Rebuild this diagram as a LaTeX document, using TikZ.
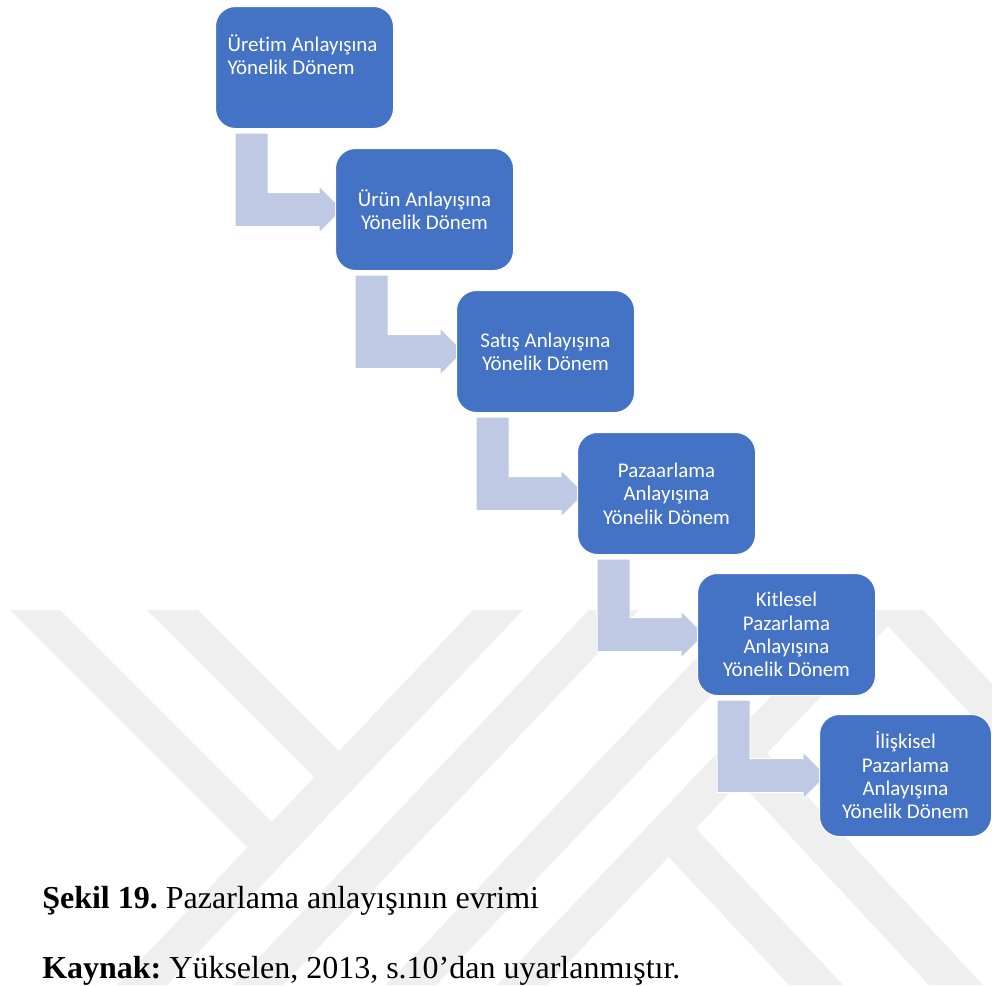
\documentclass[tikz,border=0pt]{standalone}
\usepackage{fontspec}
\setmainfont{Liberation Serif}
\newfontfamily\boxfont{Carlito}[RawFeature={-liga}]
\usetikzlibrary{calc}
\pgfdeclarelayer{wm}
\pgfdeclarelayer{arrowlayer}
\pgfsetlayers{wm,arrowlayer,main}
\definecolor{boxblue}{HTML}{4472C4}
\definecolor{arrowfill}{HTML}{BFC9E4}
\definecolor{wmgray}{HTML}{EFEFEF}
\frenchspacing

% bent step arrow from the lower left of box #1 into the left side of box #2
\newcommand\steparrow[2]{%
  \fill[arrowfill, draw=white, line width=0.75pt]
    ($(#1.south west)+(20,4)$) -- ($(#1.south west)+(53,4)$)
    -- ($(#1.south west |- #2.west)+(53,-17)$)
    -- ($(#2.west)+(-16,-17)$) -- ($(#2.west)+(-16,-23.5)$)
    -- ($(#2.west)+(7.5,0)$)
    -- ($(#2.west)+(-16,23.5)$) -- ($(#2.west)+(-16,17)$)
    -- ($(#1.south west |- #2.west)+(20,17)$) -- cycle;}

\begin{document}
\begin{tikzpicture}[x=0.75pt, y=-0.75pt,
  stepbox/.style={draw=white, line width=0.75pt, fill=boxblue,
    rounded corners=15pt, minimum width=133.5pt, minimum height=91.5pt,
    anchor=north west, text=white, inner sep=0pt, align=center,
    font=\boxfont\fontsize{15.7pt}{17.5pt}\selectfont},
  boxlabel/.style={text=white, inner sep=0pt,
    font=\boxfont\fontsize{15.7pt}{17.5pt}\selectfont},
  caption/.style={inner sep=0pt, anchor=base west,
    font=\fontsize{24pt}{28pt}\selectfont}]

\useasboundingbox (0,0) rectangle (992,985);

% watermark stripes
\begin{pgfonlayer}{wm}
  \fill[white] (0,0) rectangle (992,985);
  \begin{scope}[wmgray]
    \fill (10,610) -- (60,610) -- (297,847) -- (247,847) -- cycle;
    \fill (147,610) -- (198,610) -- (365,777) -- (314,777) -- cycle;
    \fill (473,610) -- (523,610) -- (167,985) -- (117,985) -- cycle;
    \fill (589,610) -- (639,610) -- (283,985) -- (233,985) -- cycle;
    \fill (742,610) -- (792,610) -- (436,985) -- (386,985) -- cycle;
    \fill (853,610) -- (903,610) -- (547,985) -- (497,985) -- cycle;
    \fill (661,849) -- (688,820) -- (843,985) -- (789,985) -- cycle;
    \fill (737,779) -- (764,750) -- (983,985) -- (929,985) -- cycle;
    \fill (873,610) -- (923,610) -- (992,684) -- (992,737) -- cycle;
  \end{scope}
\end{pgfonlayer}

% process boxes
\node[stepbox] (b1) at (215,6) {};
\node[boxlabel, align=left] (t1) at (302.5,55) {Üretim Anlayışına\\Yönelik Dönem};
\node[stepbox] (b2) at (335,148) {Ürün Anlayışına\\Yönelik Dönem};
\node[stepbox] (b3) at (456,290) {Satış Anlayışına\\Yönelik Dönem};
\node[stepbox] (b4) at (577,432) {Pazaarlama\\Anlayışına\\Yönelik Dönem};
\node[stepbox] (b5) at (697,573) {Kitlesel\\Pazarlama\\Anlayışına\\Yönelik Dönem};
\node[stepbox, minimum width=129pt] (b6) at (819,714) {İlişkisel\\Pazarlama\\Anlayışına\\Yönelik Dönem};

% connectors
\begin{pgfonlayer}{arrowlayer}
  \steparrow{b1}{b2}
  \steparrow{b2}{b3}
  \steparrow{b3}{b4}
  \steparrow{b4}{b5}
  \steparrow{b5}{b6}
\end{pgfonlayer}

% caption
\node[caption] (cap) at (42,908) {\textbf{Şekil 19.} Pazarlama anlayışının evrimi};
\node[caption] (src) at (42,978) {\textbf{Kaynak:} Yükselen, 2013, s.10’dan uyarlanmıştır.};
\end{tikzpicture}
\end{document}
